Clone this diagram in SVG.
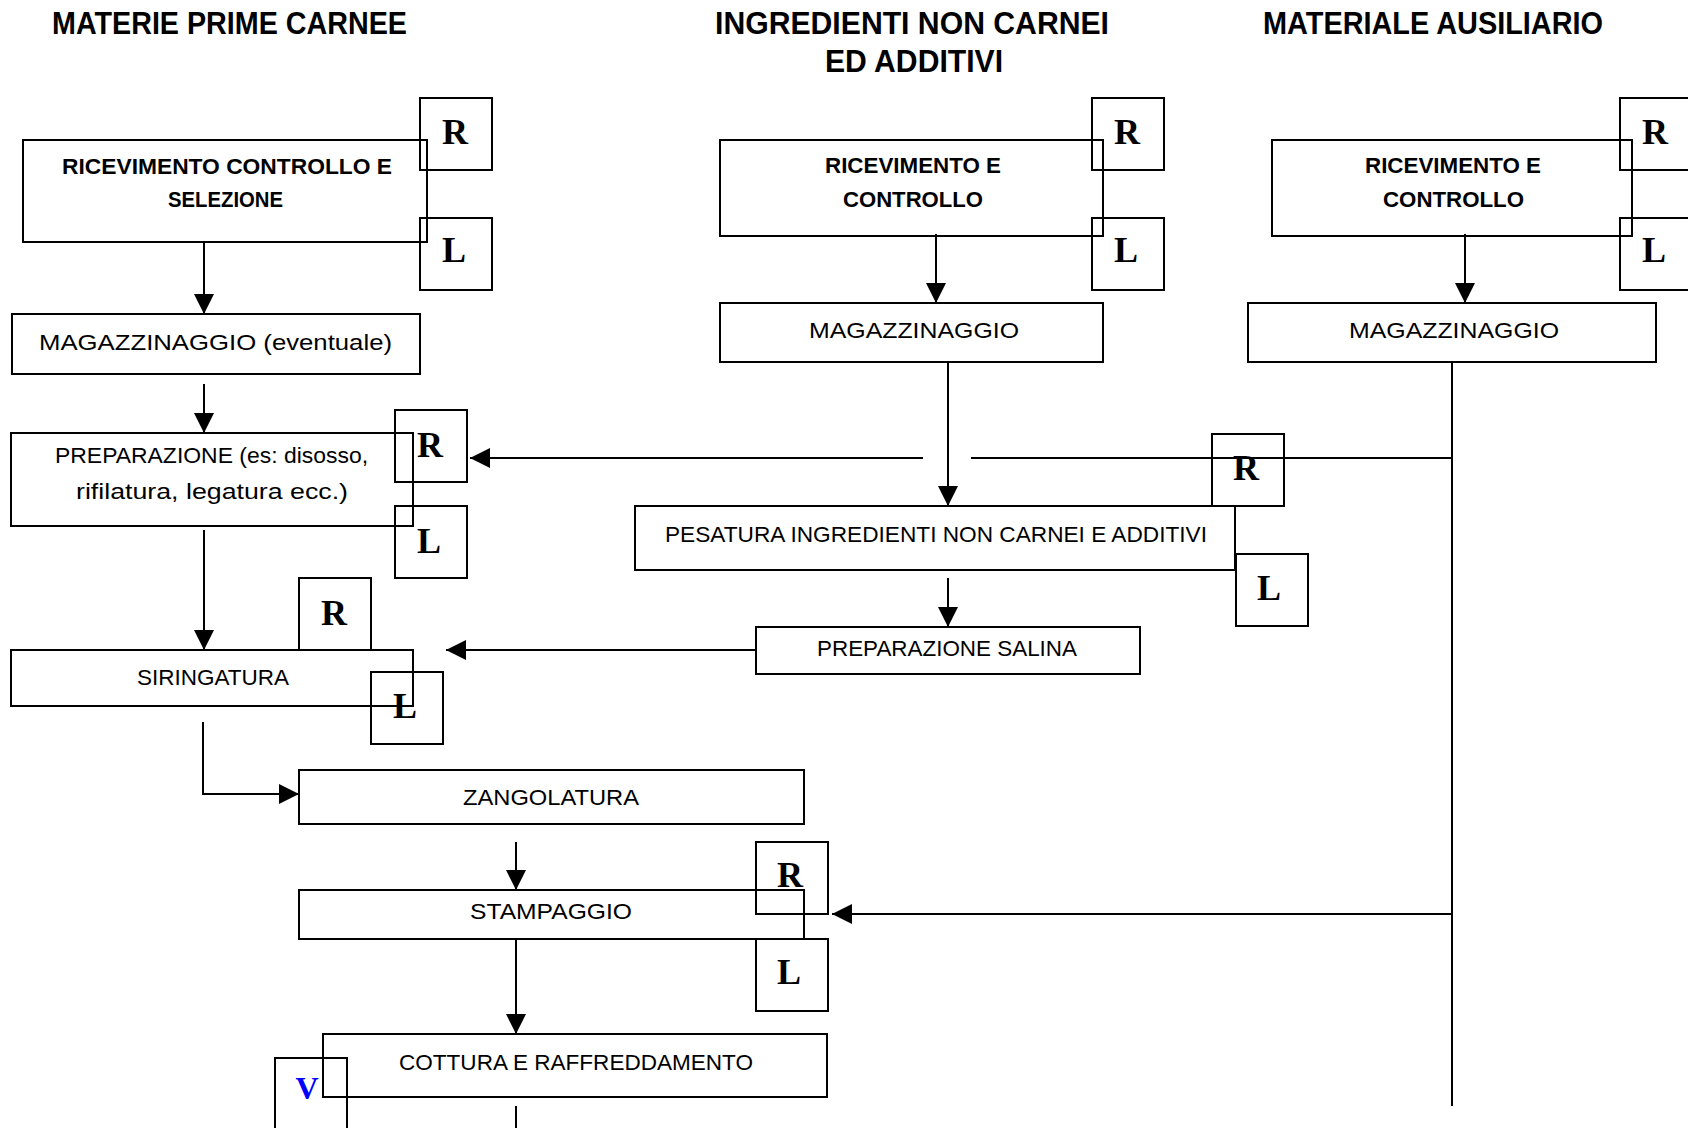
<svg xmlns="http://www.w3.org/2000/svg" width="1688" height="1128" viewBox="0 0 1688 1128">
<defs>
<style>
.bx{fill:none;stroke:#000;stroke-width:2}
.t{font-family:"Liberation Sans",Arial,sans-serif;font-size:22px;fill:#000}
.tb{font-family:"Liberation Sans",Arial,sans-serif;font-size:22px;font-weight:bold;fill:#000}
.h{font-family:"Liberation Sans",Arial,sans-serif;font-size:32px;font-weight:bold;fill:#000}
.rl{font-family:"Liberation Serif","Times New Roman",serif;font-size:36px;font-weight:bold;fill:#000;text-anchor:middle}
.ln{fill:none;stroke:#000;stroke-width:2}
</style>
<marker id="ah" viewBox="0 0 20 20" refX="20" refY="10" markerWidth="20" markerHeight="20" markerUnits="userSpaceOnUse" orient="auto">
<path d="M0,0 L20,10 L0,20 z" fill="#000"/>
</marker>
</defs>
<rect width="1688" height="1128" fill="#fff"/>

<g id="titles">
<text class="h" x="52" y="34" textLength="355" lengthAdjust="spacingAndGlyphs">MATERIE PRIME CARNEE</text>
<text class="h" x="715" y="34" textLength="394" lengthAdjust="spacingAndGlyphs">INGREDIENTI NON CARNEI</text>
<text class="h" x="825" y="72" textLength="178" lengthAdjust="spacingAndGlyphs">ED ADDITIVI</text>
<text class="h" x="1263" y="34" textLength="340" lengthAdjust="spacingAndGlyphs">MATERIALE AUSILIARIO</text>
</g>

<g id="connectors">
<path class="ln" d="M204,242 V314" marker-end="url(#ah)"/>
<path class="ln" d="M204,384 V433" marker-end="url(#ah)"/>
<path class="ln" d="M204,530 V650" marker-end="url(#ah)"/>
<path class="ln" d="M203,722 V794 H299" marker-end="url(#ah)"/>
<path class="ln" d="M516,842 V890" marker-end="url(#ah)"/>
<path class="ln" d="M516,939 V1034" marker-end="url(#ah)"/>
<path class="ln" d="M516,1106 V1128"/>
<path class="ln" d="M936,234 V303" marker-end="url(#ah)"/>
<path class="ln" d="M948,362 V506" marker-end="url(#ah)"/>
<path class="ln" d="M948,578 V627" marker-end="url(#ah)"/>
<path class="ln" d="M1465,234 V303" marker-end="url(#ah)"/>
<path class="ln" d="M1452,362 V1106"/>
<path class="ln" d="M1452,458 H971"/>
<path class="ln" d="M923,458 H470" marker-end="url(#ah)"/>
<path class="ln" d="M756,650 H446" marker-end="url(#ah)"/>
<path class="ln" d="M1452,914 H832" marker-end="url(#ah)"/>
</g>

<g id="ricevimento-carnee">
<rect class="bx" x="23" y="140" width="404" height="102"/>
<text class="tb" x="62" y="174" textLength="330" lengthAdjust="spacingAndGlyphs">RICEVIMENTO CONTROLLO  E</text>
<text class="tb" x="168" y="207" textLength="115" lengthAdjust="spacingAndGlyphs">SELEZIONE</text>
</g>
<g id="r1"><rect class="bx" x="420" y="98" width="72" height="72"/><text class="rl" x="455" y="144">R</text></g>
<g id="l1"><rect class="bx" x="420" y="218" width="72" height="72"/><text class="rl" x="454" y="262">L</text></g>

<g id="magazzinaggio-carnee">
<rect class="bx" x="12" y="314" width="408" height="60"/>
<text class="t" x="39" y="350" textLength="353" lengthAdjust="spacingAndGlyphs">MAGAZZINAGGIO (eventuale)</text>
</g>

<g id="ricevimento-ingredienti">
<rect class="bx" x="720" y="140" width="383" height="96"/>
<text class="tb" x="825" y="173" textLength="176" lengthAdjust="spacingAndGlyphs">RICEVIMENTO E</text>
<text class="tb" x="843" y="207" textLength="140" lengthAdjust="spacingAndGlyphs">CONTROLLO</text>
</g>
<g id="r2"><rect class="bx" x="1092" y="98" width="72" height="72"/><text class="rl" x="1127" y="144">R</text></g>
<g id="l2"><rect class="bx" x="1092" y="218" width="72" height="72"/><text class="rl" x="1126" y="262">L</text></g>

<g id="magazzinaggio-ingredienti">
<rect class="bx" x="720" y="303" width="383" height="59"/>
<text class="t" x="809" y="338" textLength="210" lengthAdjust="spacingAndGlyphs">MAGAZZINAGGIO</text>
</g>

<g id="ricevimento-ausiliario">
<rect class="bx" x="1272" y="140" width="360" height="96"/>
<text class="tb" x="1365" y="173" textLength="176" lengthAdjust="spacingAndGlyphs">RICEVIMENTO E</text>
<text class="tb" x="1383" y="207" textLength="141" lengthAdjust="spacingAndGlyphs">CONTROLLO</text>
</g>
<g id="r3"><rect class="bx" x="1620" y="98" width="72" height="72"/><text class="rl" x="1655" y="144">R</text></g>
<g id="l3"><rect class="bx" x="1620" y="218" width="72" height="72"/><text class="rl" x="1654" y="262">L</text></g>

<g id="magazzinaggio-ausiliario">
<rect class="bx" x="1248" y="303" width="408" height="59"/>
<text class="t" x="1349" y="338" textLength="210" lengthAdjust="spacingAndGlyphs">MAGAZZINAGGIO</text>
</g>

<g id="preparazione">
<rect class="bx" x="11" y="433" width="402" height="93"/>
<text class="t" x="55" y="463" textLength="313" lengthAdjust="spacingAndGlyphs">PREPARAZIONE (es: disosso,</text>
<text class="t" x="76" y="499" textLength="272" lengthAdjust="spacingAndGlyphs">rifilatura, legatura ecc.)</text>
</g>
<g id="r4"><rect class="bx" x="395" y="410" width="72" height="72"/><text class="rl" x="430" y="457">R</text></g>
<g id="l4"><rect class="bx" x="395" y="506" width="72" height="72"/><text class="rl" x="429" y="553">L</text></g>

<g id="pesatura">
<rect class="bx" x="635" y="506" width="600" height="64"/>
<text class="t" x="665" y="542" textLength="542" lengthAdjust="spacingAndGlyphs">PESATURA INGREDIENTI NON CARNEI E ADDITIVI</text>
</g>
<g id="r5"><rect class="bx" x="1212" y="434" width="72" height="72"/><text class="rl" x="1246" y="480">R</text></g>
<g id="l5"><rect class="bx" x="1236" y="554" width="72" height="72"/><text class="rl" x="1269" y="600">L</text></g>

<g id="preparazione-salina">
<rect class="bx" x="756" y="627" width="384" height="47"/>
<text class="t" x="817" y="656" textLength="260" lengthAdjust="spacingAndGlyphs">PREPARAZIONE SALINA</text>
</g>

<g id="siringatura">
<rect class="bx" x="11" y="650" width="402" height="56"/>
<text class="t" x="137" y="685" textLength="152" lengthAdjust="spacingAndGlyphs">SIRINGATURA</text>
</g>
<g id="r6"><rect class="bx" x="299" y="578" width="72" height="72"/><text class="rl" x="334" y="625">R</text></g>
<g id="l6"><rect class="bx" x="371" y="672" width="72" height="72"/><text class="rl" x="405" y="718">L</text></g>

<g id="zangolatura">
<rect class="bx" x="299" y="770" width="505" height="54"/>
<text class="t" x="463" y="805" textLength="176" lengthAdjust="spacingAndGlyphs">ZANGOLATURA</text>
</g>

<g id="stampaggio">
<rect class="bx" x="299" y="890" width="505" height="49"/>
<text class="t" x="470" y="919" textLength="162" lengthAdjust="spacingAndGlyphs">STAMPAGGIO</text>
</g>
<g id="r7"><rect class="bx" x="756" y="842" width="72" height="72"/><text class="rl" x="790" y="887">R</text></g>
<g id="l7"><rect class="bx" x="756" y="939" width="72" height="72"/><text class="rl" x="789" y="984">L</text></g>

<g id="cottura">
<rect class="bx" x="323" y="1034" width="504" height="63"/>
<text class="t" x="399" y="1070" textLength="354" lengthAdjust="spacingAndGlyphs">COTTURA E RAFFREDDAMENTO</text>
</g>
<g id="v1"><rect class="bx" x="275" y="1058" width="72" height="90"/><text class="rl" x="307" y="1099" style="fill:#0000ff;font-size:32px">V</text></g>
</svg>
